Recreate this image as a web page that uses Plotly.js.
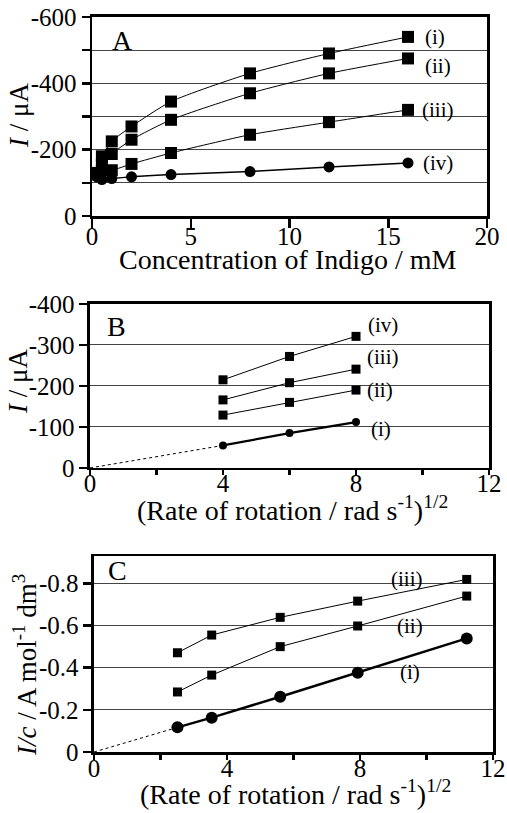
<!DOCTYPE html>
<html>
<head>
<meta charset="utf-8">
<script src="https://cdn.plot.ly/plotly-3.0.1.min.js"></script>
<style>html,body{margin:0;padding:0;background:#fff;}#chart{width:507px;height:813px;}</style>
</head>
<body>
<div id="chart"></div>
<script>
// ---- Panel A data: current vs indigo concentration ----
const concA = [0.25, 0.5, 1, 2, 4, 8, 12, 16];
const aSeries1 = [-130, -180, -225, -270, -345, -430, -490, -540];
const aSeries2 = [-128, -155, -187, -230, -290, -370, -430, -475];
const aSeries3 = [-125, -138, -138, -157, -190, -245, -283, -320];
const aSeries4 = [-118, -110, -113, -118, -125, -134, -148, -160];
const labelsA = ['(i)', '(ii)', '(iii)', '(iv)'];
const labelAx = [17.35, 17.5, 17.5, 17.5];
const labelAy = [-541, -452, -320, -160];
const ticksAx = [0, 5, 10, 15, 20];
const ticksAy = [0, -200, -400, -600];

// ---- Panel B data: current vs sqrt rotation rate ----
const rotB = [4, 6, 8];
const bSeries1 = [-55, -85, -112];
const bSeries2 = [-129, -160, -190];
const bSeries3 = [-166, -208, -241];
const bSeries4 = [-215, -272, -321];
const labelsB = ['(i)', '(ii)', '(iii)', '(iv)'];
const labelBx = [8.75, 8.72, 8.82, 8.82];
const labelBy = [-95, -190, -270, -348];
const ticksBx = [0, 4, 8, 12];
const ticksBy = [0, -100, -200, -300, -400];

// ---- Panel C data: I/c vs sqrt rotation rate ----
const rotC = [2.51, 3.54, 5.60, 7.93, 11.21];
const cSeries1 = [-0.117, -0.163, -0.262, -0.376, -0.539];
const cSeries2 = [-0.285, -0.365, -0.50, -0.598, -0.74];
const cSeries3 = [-0.471, -0.555, -0.639, -0.716, -0.819];
const labelsC = ['(i)', '(ii)', '(iii)'];
const labelCx = [9.5, 9.5, 9.4];
const labelCy = [-0.381, -0.598, -0.82];
const ticksCx = [0, 4, 8, 12];
const ticksCy = [0, -0.2, -0.4, -0.6, -0.8];

const FONT = 'Liberation Serif, Times New Roman, serif';
const BLACK = '#000';

function sq(x, y, xa, ya, size, lw, spline) {
  return {x: x, y: y, xaxis: xa, yaxis: ya, type: 'scatter', mode: 'lines+markers',
    line: spline ? {color: BLACK, width: lw, shape: 'spline', smoothing: 0.6} : {color: BLACK, width: lw},
    marker: {symbol: 'square', size: size, color: BLACK}, showlegend: false, hoverinfo: 'skip'};
}
function circ(x, y, xa, ya, size, lw, spline) {
  return {x: x, y: y, xaxis: xa, yaxis: ya, type: 'scatter', mode: 'lines+markers',
    line: spline ? {color: BLACK, width: lw, shape: 'spline', smoothing: 0.6} : {color: BLACK, width: lw},
    marker: {symbol: 'circle', size: size, color: BLACK}, showlegend: false, hoverinfo: 'skip'};
}
function dotted(x0, y0, xa, ya) {
  return {x: [0, x0], y: [0, y0], xaxis: xa, yaxis: ya, type: 'scatter', mode: 'lines',
    line: {color: BLACK, width: 1, dash: 'dot'}, showlegend: false, hoverinfo: 'skip'};
}

const traces = [
  sq(concA, aSeries1, 'x', 'y', 12, 1, true),
  sq(concA, aSeries2, 'x', 'y', 12, 1, true),
  sq(concA, aSeries3, 'x', 'y', 12, 1, true),
  circ(concA, aSeries4, 'x', 'y', 11, 1.5, true),

  dotted(rotB[0], bSeries1[0], 'x2', 'y2'),
  circ(rotB, bSeries1, 'x2', 'y2', 8, 2.2, false),
  sq(rotB, bSeries2, 'x2', 'y2', 9, 1, false),
  sq(rotB, bSeries3, 'x2', 'y2', 9, 1, false),
  sq(rotB, bSeries4, 'x2', 'y2', 9, 1, false),

  dotted(rotC[0], cSeries1[0], 'x3', 'y3'),
  circ(rotC, cSeries1, 'x3', 'y3', 12, 2.5, false),
  sq(rotC, cSeries2, 'x3', 'y3', 9, 1, false),
  sq(rotC, cSeries3, 'x3', 'y3', 9, 1, false)
];

const tickFont = {family: FONT, size: 25, color: BLACK};

function fmt(v) { return v === 0 ? '0' : String(v); }

function xAxis(domain, anchor, range, vals, minorStep, len, standoff) {
  return {domain: domain, anchor: anchor, range: range, tickvals: vals, ticktext: vals.map(fmt),
    ticks: 'outside', ticklen: len, tickwidth: 2.5, tickcolor: BLACK, ticklabelstandoff: standoff,
    minor: minorStep ? {dtick: minorStep, tick0: 0, ticks: 'outside', ticklen: len, tickwidth: 2.5, tickcolor: BLACK, showgrid: false} : undefined,
    showline: true, linewidth: 2.5, linecolor: BLACK, mirror: true,
    showgrid: false, zeroline: false, tickfont: tickFont,
    automargin: false, fixedrange: true};
}
function yAxis(domain, anchor, range, vals, minorStep) {
  return {domain: domain, anchor: anchor, range: range, tickvals: vals, ticktext: vals.map(fmt),
    ticks: 'outside', ticklen: 8, tickwidth: 2.5, tickcolor: BLACK,
    minor: minorStep ? {dtick: minorStep, tick0: 0, ticks: 'outside', ticklen: 8, tickwidth: 2.5, tickcolor: BLACK,
      showgrid: true, gridcolor: '#444', gridwidth: 1} : undefined,
    showline: true, linewidth: 2.5, linecolor: BLACK, mirror: true,
    showgrid: true, gridcolor: '#444', gridwidth: 1, zeroline: false, tickfont: tickFont,
    automargin: false, fixedrange: true};
}

const annotations = [];
function addLabel(text, x, y, xref, yref, size, angle) {
  annotations.push({text: text, x: x, y: y, xref: xref, yref: yref, showarrow: false,
    textangle: angle || 0,
    font: {family: FONT, size: size, color: BLACK}, xanchor: 'center', yanchor: 'middle'});
}
labelsA.forEach((t, i) => addLabel(t, labelAx[i], labelAy[i], 'x', 'y', 21));
labelsB.forEach((t, i) => addLabel(t, labelBx[i], labelBy[i], 'x2', 'y2', 21));
labelsC.forEach((t, i) => addLabel(t, labelCx[i], labelCy[i], 'x3', 'y3', 21));
addLabel('A', 1.55, -530, 'x', 'y', 28);
addLabel('B', 0.81, -344, 'x2', 'y2', 28);
addLabel('C', 0.72, -0.86, 'x3', 'y3', 28);

// axis titles (placed in paper coordinates)
const H = 813, W = 507;
function px(x) { return x / W; }
function py(y) { return 1 - y / H; }
addLabel('Concentration of Indigo / mM', px(288), py(259), 'paper', 'paper', 28);
addLabel('<i>I</i> / μA', px(19), py(116), 'paper', 'paper', 27, -90);
addLabel('(Rate of rotation / rad s<sup>-1</sup>)<sup>1/2</sup>', px(292), py(509), 'paper', 'paper', 28);
addLabel('<i>I</i> / μA', px(18), py(382), 'paper', 'paper', 27, -90);
addLabel('(Rate of rotation / rad s<sup>-1</sup>)<sup>1/2</sup>', px(295), py(792), 'paper', 'paper', 28);
addLabel('<i>I/c</i> / A mol<sup>-1</sup> dm<sup>3</sup>', px(25), py(665), 'paper', 'paper', 27, -90);

const layout = {
  width: W, height: H,
  margin: {l: 0, r: 0, t: 0, b: 0},
  paper_bgcolor: '#fff', plot_bgcolor: '#fff',
  showlegend: false,
  xaxis: xAxis([0.1815, 0.9606], 'y', [0, 20], ticksAx, 0, 9, -13),
  yaxis: yAxis([0.7343, 0.9791], 'x', [0, -600], ticksAy, 100),
  xaxis2: xAxis([0.1775, 0.9645], 'y2', [0, 12], ticksBx, 2, 5, -13),
  yaxis2: yAxis([0.4244, 0.6261], 'x2', [0, -400], ticksBy, 0),
  xaxis3: xAxis([0.1854, 0.9724], 'y3', [0, 12], ticksCx, 2, 5, -13),
  yaxis3: yAxis([0.0750, 0.3161], 'x3', [0, -0.93], ticksCy, 0),
  annotations: annotations
};

Plotly.newPlot('chart', traces, layout, {displayModeBar: false, staticPlot: true});
</script>
</body>
</html>
